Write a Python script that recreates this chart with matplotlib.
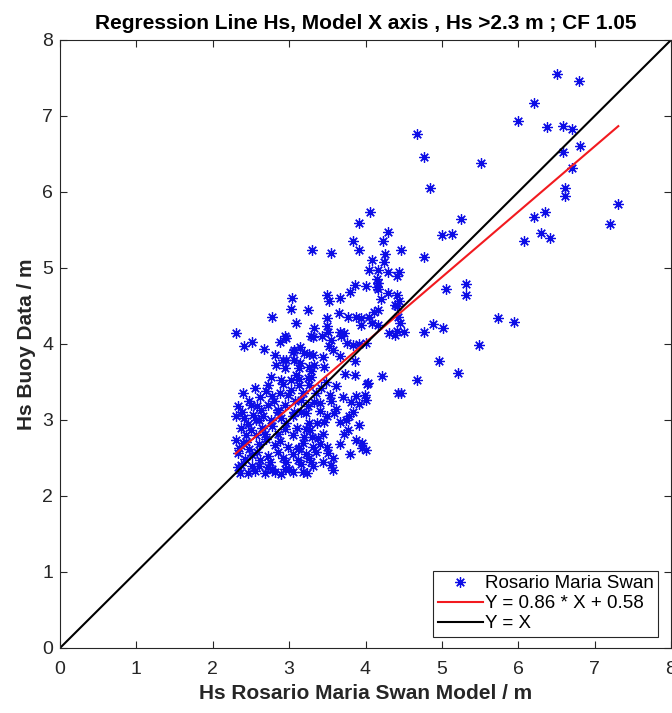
import numpy as np
import matplotlib
matplotlib.use('Agg')
import matplotlib.pyplot as plt

plt.rcParams['font.family'] = ['Liberation Sans', 'DejaVu Sans']

# Hs pairs: model (x) vs buoy (y), in metres
model_hs = [
    6.51, 6.80, 6.20, 6.00, 6.37, 6.59, 6.71, 6.81, 6.59, 6.71, 6.61, 6.61, 7.31, 7.20,
    6.35, 6.20, 6.30, 6.41, 6.08, 5.51, 4.76, 4.84, 4.68, 5.25, 5.00, 5.13, 4.76, 5.05,
    5.31, 5.31, 5.74, 5.94, 4.76, 4.88, 5.02, 5.48, 4.96, 5.21, 4.68, 4.51, 4.46,
    4.06, 3.92, 4.30, 3.83, 4.23, 3.30, 3.55, 3.91, 4.46, 4.26, 4.09, 4.24, 4.05, 4.17,
    4.30, 4.44, 4.41, 4.15, 4.17, 4.01, 3.86, 3.80, 4.15, 4.17, 4.30, 4.41, 4.20, 4.44,
    3.04, 3.50, 3.66, 3.03, 3.25, 3.52, 4.38, 4.41, 3.65, 3.77, 3.87, 3.94, 4.04, 4.11,
    4.17, 4.09, 3.94, 4.17, 4.42, 4.45, 4.41, 4.31, 4.38, 3.09, 3.50, 3.50, 3.33, 3.51,
    3.66, 3.72, 3.76, 3.83, 3.92, 4.01, 3.29, 3.43, 3.55, 3.52, 3.57, 3.68, 2.94, 2.88,
    3.14, 3.05, 3.20, 3.31, 3.33, 3.44, 3.46, 2.96, 3.14, 3.29, 3.25, 3.09, 2.94, 3.66,
    3.86, 3.73, 3.86, 4.03, 4.22,
    2.78, 2.30, 2.41, 2.52, 2.67, 2.96, 3.31, 2.81, 2.92, 3.07, 3.26, 2.83, 3.07, 3.13,
    3.26, 2.76, 2.89, 3.02, 3.13, 3.29,
    4.02, 4.42, 3.54, 3.40, 3.33, 3.55, 3.88, 3.99, 4.01, 3.81, 3.91, 3.59, 3.83, 3.79,
    3.75, 3.49, 3.46, 3.66, 3.36, 3.92, 3.77, 3.44, 3.38, 3.88, 3.96, 3.66, 4.01, 3.49,
    3.51, 3.31, 3.55, 3.57, 3.27, 3.96,
    2.39, 2.72, 2.92, 3.13, 3.26, 2.78, 2.98, 3.15, 2.33, 2.50, 2.63, 2.85, 3.07, 3.22,
    2.31, 2.41, 2.57, 2.76, 2.96, 3.26, 2.37, 2.50, 2.68, 2.85, 3.05, 3.20, 2.30, 2.44,
    2.61, 2.81, 2.98, 3.13, 3.31, 2.33, 2.52, 2.72, 2.92, 3.11, 3.26, 2.37, 2.61, 2.78,
    3.00, 3.18, 2.46, 2.68, 2.89, 3.24,
    2.55, 2.62, 2.70, 2.48, 2.58, 2.38, 2.46, 2.53, 2.66, 2.72, 2.80, 2.88, 2.95, 3.02,
    3.08, 3.18, 3.05, 2.90, 2.78, 2.65, 2.56, 2.43, 2.34, 2.48, 2.58, 2.70, 2.88, 2.95,
    3.10, 3.18, 3.22, 3.15, 3.05, 2.96, 2.85, 2.75, 2.62, 2.52, 2.42, 2.33, 2.36, 2.55,
    2.72, 2.82, 2.94, 3.05, 3.28, 3.35, 3.40, 3.30, 3.22, 3.25, 3.35, 3.42, 3.15, 2.85,
    2.60, 2.40, 3.12, 3.40, 3.48, 3.62, 3.70, 3.62, 3.72, 3.58, 3.80, 3.45,
]
buoy_hs = [
    7.55, 7.46, 7.17, 6.93, 6.85, 6.87, 6.83, 6.61, 6.52, 6.32, 6.05, 5.95, 5.84, 5.58,
    5.74, 5.67, 5.46, 5.40, 5.36, 6.38, 6.46, 6.05, 6.76, 5.64, 5.43, 5.45, 5.15, 4.72,
    4.79, 4.65, 4.34, 4.29, 4.16, 4.26, 4.21, 3.99, 3.77, 3.62, 3.53, 4.16, 3.35,
    5.74, 5.59, 5.48, 5.35, 5.36, 5.24, 5.20, 5.24, 5.24, 5.19, 5.11, 5.08, 4.97, 4.97,
    4.95, 4.95, 4.89, 4.86, 4.80, 4.76, 4.78, 4.69, 4.75, 4.72, 4.67, 4.64, 4.59, 4.57,
    4.61, 4.64, 4.61, 4.46, 4.45, 4.56, 4.51, 4.50, 4.41, 4.36, 4.35, 4.34, 4.35, 4.42,
    4.45, 4.27, 4.25, 4.25, 4.36, 4.28, 4.17, 4.15, 4.12, 4.27, 4.34, 4.24, 4.21, 4.16,
    4.16, 4.14, 4.01, 3.99, 4.00, 4.01, 4.10, 4.10, 4.05, 3.97, 3.92, 4.10, 4.10, 4.03,
    3.96, 3.90, 3.88, 3.86, 3.72, 3.83, 3.70, 3.79, 3.75, 3.64, 3.55, 3.59, 3.68, 3.84,
    3.77, 3.61, 3.59, 3.49, 3.58,
    4.36, 4.14, 3.97, 4.03, 3.94, 4.08, 4.09, 3.86, 3.79, 3.92, 3.87, 3.72, 3.79, 3.68,
    3.70, 3.57, 3.53, 3.53, 3.54, 3.57,
    3.47, 3.35, 3.33, 3.22, 3.24, 3.25, 3.31, 3.33, 3.26, 3.24, 3.21, 3.09, 3.11, 3.05,
    3.00, 3.05, 2.98, 2.97, 2.96, 2.93, 2.87, 2.82, 2.76, 2.74, 2.70, 2.69, 2.60, 2.65,
    2.56, 2.39, 2.41, 2.34, 2.87, 2.63,
    3.35, 3.46, 3.48, 3.46, 3.46, 3.31, 3.33, 3.26, 3.18, 3.20, 3.13, 3.13, 3.11, 3.09,
    3.05, 3.02, 3.00, 3.00, 2.96, 2.96, 2.89, 2.87, 2.82, 2.82, 2.80, 2.78, 2.74, 2.71,
    2.69, 2.67, 2.65, 2.63, 2.65, 2.56, 2.54, 2.52, 2.50, 2.47, 2.50, 2.41, 2.39, 2.36,
    2.36, 2.32, 2.30, 2.30, 2.29, 2.30,
    3.42, 3.30, 3.38, 3.25, 3.18, 3.10, 2.95, 3.07, 3.05, 3.20, 3.25, 3.36, 3.20, 3.40,
    3.25, 3.35, 3.05, 3.02, 2.92, 2.90, 2.80, 2.80, 2.63, 2.62, 2.58, 2.75, 2.72, 2.88,
    2.90, 2.70, 2.55, 2.42, 2.55, 2.45, 2.58, 2.45, 2.48, 2.40, 2.49, 2.38, 2.30, 2.33,
    2.38, 2.32, 2.36, 2.32, 2.45, 2.58, 2.68, 2.78, 2.88, 3.18, 3.35, 3.42, 3.10, 3.10,
    3.00, 2.70, 2.62, 3.12, 3.50, 3.45, 3.30, 3.15, 2.82, 2.50, 2.55, 2.45,
]

slope = 0.86
intercept = 0.58
axis_lim = [0, 8]

x = np.array(model_hs)
y = np.array(buoy_hs)

fig = plt.figure(figsize=(6.72, 7.13), dpi=100)
ax = fig.add_axes([60/672, 65/713, 611/672, 608/713])

ax.plot(x, y, linestyle='none', marker=(8, 2, 0), markersize=7.5, mew=0.9,
        color=(0.05, 0.05, 0.9), label='Rosario Maria Swan')

xr = np.array([x.min(), x.max()])
ax.plot(xr, slope*xr + intercept, color=(0.95, 0.1, 0.12), lw=1.5,
        label='Y = %.2f * X + %.2f' % (slope, intercept))
ax.plot(axis_lim, axis_lim, color='k', lw=1.5, label='Y = X')

ax.set_xlim(axis_lim)
ax.set_ylim(axis_lim)
ax.set_xticks(range(0, 9))
ax.set_yticks(range(0, 9))

dark = '#262626'
for s in ax.spines.values():
    s.set_color(dark)
    s.set_linewidth(0.8)
ax.tick_params(direction='in', top=True, right=True, length=5, width=0.8,
               colors=dark, labelsize=14)
ax.tick_params(axis='x', pad=9)
ax.tick_params(axis='y', pad=5)

ax.set_title('Regression Line Hs, Model X axis , Hs >2.3 m ; CF 1.05',
             fontsize=15, fontweight='bold', pad=8)
ax.set_xlabel('Hs Rosario Maria Swan Model / m', fontsize=15, fontweight='bold',
              color=dark, labelpad=5)
ax.set_ylabel('Hs Buoy Data / m', fontsize=15, fontweight='bold', color=dark,
              labelpad=4)

leg = ax.legend(loc='lower right', bbox_to_anchor=(0.979, 0.018), borderaxespad=0,
                fontsize=13.5, fancybox=False, framealpha=1, edgecolor=dark,
                handlelength=2.4, handletextpad=0.1, labelspacing=0.15,
                borderpad=0.25)
leg.get_frame().set_linewidth(0.8)

fig.savefig('out.png', dpi=100)
